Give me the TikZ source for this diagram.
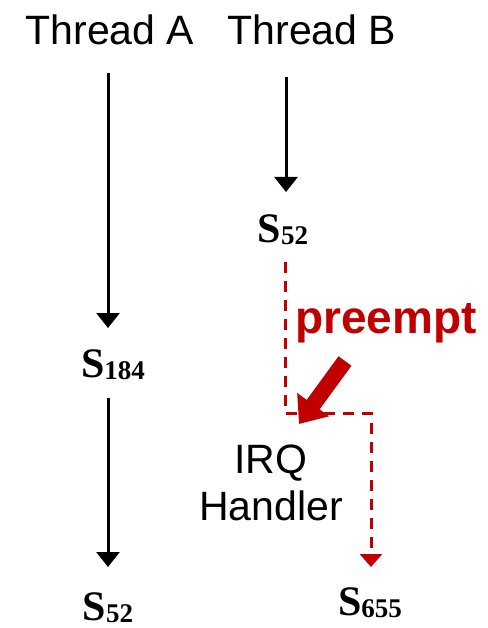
\documentclass[tikz,border=0pt]{standalone}
\usepackage{fontspec}
\setmainfont{Liberation Sans}
\newfontfamily\stfont{Liberation Serif}
\usetikzlibrary{arrows.meta}
\definecolor{prered}{HTML}{C00000}
\tikzset{
  lbl/.style={anchor=base, inner sep=0pt, font=\fontsize{41}{47}\selectfont},
  state/.style={anchor=base, inner sep=0pt, font=\stfont\bfseries\fontsize{42}{42}\selectfont},
  flow/.style={line width=3pt, -{Triangle[width=23pt,length=15pt]}},
  preflow/.style={line width=3pt, prered, dash pattern=on 11pt off 8pt, -{Triangle[width=22pt,length=13pt]}},
  bigarrow/.style={line width=16pt, prered, -{Triangle[width=38pt,length=24pt]}}
}
\newcommand{\st}[1]{S\raisebox{-2.5pt}{\fontsize{27}{27}\selectfont #1}}
\begin{document}
\begin{tikzpicture}[x=1pt,y=-1pt]
\useasboundingbox (0,0) rectangle (487,628);
% column headers
\node[lbl] (tA) at (110,45) {Thread A};
\node[lbl] (tB) at (312,45) {Thread B};
% states
\node[state] (sB52) at (283,242) {\st{52}};
\node[state] (s184) at (113,377) {\st{184}};
\node[state] (sA52) at (108,620) {\st{52}};
\node[state] (s655) at (370,615) {\st{655}};
% labels
\node[lbl, font=\bfseries\fontsize{46}{46}\selectfont, text=prered] (pre) at (386,333) {preempt};
\node[lbl, align=center] (irq) at (271,520) {IRQ\\Handler};
% connector end points
\coordinate (a0) at (108,73);
\coordinate (a1) at (108,328);
\coordinate (a2) at (108,398);
\coordinate (a3) at (108,567);
\coordinate (b0) at (286,77);
\coordinate (b1) at (286,192);
\coordinate (r0) at (285,262);
\coordinate (r1) at (285,413);
\coordinate (r2) at (371,413);
\coordinate (r3) at (371,567);
\coordinate (p0) at (345,361);
\coordinate (p1) at (299,424);
% thread A
\draw[flow] (a0) -- (a1);
\draw[flow] (a2) -- (a3);
% thread B
\draw[flow] (b0) -- (b1);
% preemption path through the handler
\draw[preflow] (r0) -- (r1) -- (r2) -- (r3);
\draw[bigarrow] (p0) -- (p1);
\end{tikzpicture}
\end{document}
